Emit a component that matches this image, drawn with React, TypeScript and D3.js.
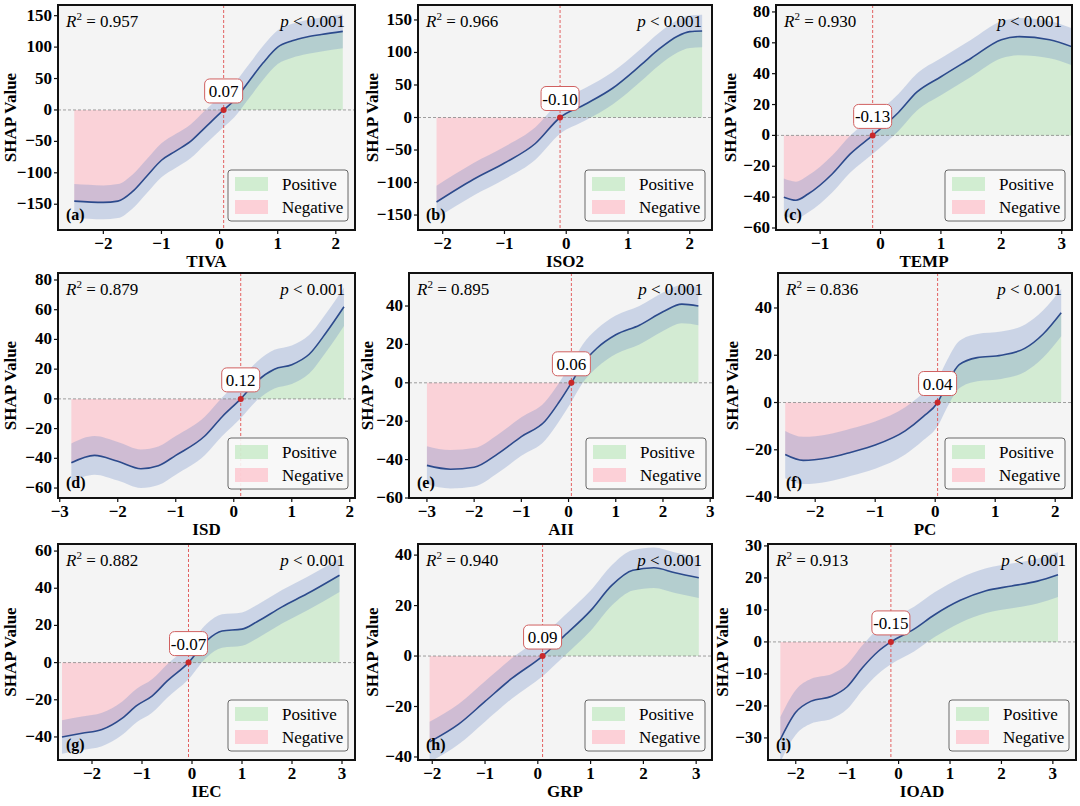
import * as d3 from 'd3';

const names = ['TIVA', 'ISO2', 'TEMP', 'ISD', 'AII', 'PC', 'IEC', 'GRP', 'IOAD'];
const letters = ['a', 'b', 'c', 'd', 'e', 'f', 'g', 'h', 'i'];
const r2 = ['0.957', '0.966', '0.930', '0.879', '0.895', '0.836', '0.882', '0.940', '0.913'];
const crossing = [0.07, -0.1, -0.13, 0.12, 0.06, 0.04, -0.07, 0.09, -0.15];
const bandHalf = [27, 25, 12, 13, 10, 10, 9, 8, 7];

const xDomains: [number, number][] = [
  [-2.78, 2.33], [-2.4, 2.36], [-1.73, 3.17],
  [-3.03, 2.09], [-3.38, 3.06], [-2.62, 2.28],
  [-2.68, 3.26], [-2.27, 3.3], [-2.54, 3.45],
];
const yDomains: [number, number][] = [
  [-191, 167], [-173, 173], [-61.3, 84.5],
  [-66.7, 84.7], [-60, 57.2], [-40.4, 54.8],
  [-52.4, 63.8], [-41.2, 44.4], [-36.9, 30.6],
];
const xTicks = [
  [-2, -1, 0, 1, 2], [-2, -1, 0, 1, 2], [-1, 0, 1, 2, 3],
  [-3, -2, -1, 0, 1, 2], [-3, -2, -1, 0, 1, 2, 3], [-2, -1, 0, 1, 2],
  [-2, -1, 0, 1, 2, 3], [-2, -1, 0, 1, 2, 3], [-2, -1, 0, 1, 2, 3],
];
const yTicks = [
  [-150, -100, -50, 0, 50, 100, 150], [-150, -100, -50, 0, 50, 100, 150], [-60, -40, -20, 0, 20, 40, 60, 80],
  [-60, -40, -20, 0, 20, 40, 60, 80], [-60, -40, -20, 0, 20, 40], [-40, -20, 0, 20, 40],
  [-40, -20, 0, 20, 40, 60], [-40, -20, 0, 20, 40], [-30, -20, -10, 0, 10, 20, 30],
];

const curveX = [
  [-2.5, -2.0, -1.75, -1.5, -1.25, -1.0, -0.75, -0.5, -0.25, 0.07, 0.25, 0.5, 0.75, 1.0, 1.25, 1.5, 1.75, 2.12],
  [-2.1, -1.5, -1.0, -0.5, -0.1, 0.3, 0.75, 1.2, 1.5, 1.8, 2.0, 2.2],
  [-1.6, -1.4, -1.2, -0.8, -0.5, -0.13, 0.3, 0.6, 1.0, 1.5, 2.0, 2.3, 2.8, 3.2],
  [-2.8, -2.4, -2.0, -1.6, -1.3, -1.0, -0.5, -0.2, 0.12, 0.4, 0.7, 1.0, 1.3, 1.6, 1.9],
  [-3.0, -2.5, -2.0, -1.5, -1.0, -0.5, -0.2, 0.06, 0.3, 0.6, 1.0, 1.5, 2.0, 2.4, 2.75],
  [-2.5, -2.2, -1.8, -1.4, -1.0, -0.5, -0.2, 0.04, 0.2, 0.4, 0.7, 1.1, 1.5, 1.8, 2.1],
  [-2.6, -2.2, -1.8, -1.4, -1.1, -0.8, -0.5, -0.07, 0.3, 0.6, 1.0, 1.3, 1.8, 2.3, 2.95],
  [-2.05, -1.5, -1.0, -0.5, 0.09, 0.5, 1.0, 1.4, 1.8, 2.2, 2.6, 3.05],
  [-2.3, -2.0, -1.7, -1.3, -1.0, -0.7, -0.4, -0.15, 0.3, 0.7, 1.2, 1.7, 2.2, 2.7, 3.1],
];
const curveY = [
  [-145, -147, -145, -130, -105, -80, -65, -50, -28, 0, 15, 45, 75, 100, 110, 116, 120, 125],
  [-130, -95, -70, -40, 0, 20, 45, 80, 105, 125, 132, 133],
  [-40, -42, -38, -25, -12, 0, 15, 28, 38, 50, 62, 64, 62, 57],
  [-43, -38, -42, -47, -45, -38, -25, -12, 0, 12, 20, 23, 30, 45, 62],
  [-43, -45, -44, -37, -28, -20, -10, 0, 10, 18, 25, 30, 37, 41, 40],
  [-22, -24.5, -23.5, -21, -18, -12, -6, 0, 8, 16, 19, 20, 23, 29, 38],
  [-40, -38, -36, -30, -23, -18, -10, 0, 12, 17, 18, 22, 30, 37, 47],
  [-34, -27, -18, -9, 0, 8, 18, 28, 34, 35, 33, 31],
  [-30.5, -22, -18.5, -17, -14, -8, -3, 0, 4, 8.5, 13, 16, 17.5, 19, 21],
];

const colLeft = [58, 418, 776, 58, 409, 778, 58, 418, 768];
const colRight = [355, 712, 1072, 355, 713, 1072, 355, 712, 1076];
const rowTop = [5, 273, 544];
const rowBottom = [230, 498, 760];

const FONT = "'Times New Roman', 'Liberation Serif', 'DejaVu Serif', serif";

function Panel({ i }: { i: number }) {
  const row = Math.floor(i / 3);
  const L = colLeft[i], R = colRight[i], T = rowTop[row], B = rowBottom[row];
  const x = d3.scaleLinear().domain(xDomains[i]).range([L, R]);
  const y = d3.scaleLinear().domain(yDomains[i]).range([B, T]);
  const pts = curveX[i].map((v, k) => ({ x: v, y: curveY[i][k] }));
  const c = crossing[i];
  const h = bandHalf[i];
  const curve = d3.curveMonotoneX;
  const line = d3.line<{ x: number; y: number }>().x(d => x(d.x)).y(d => y(d.y)).curve(curve);
  const band = d3.area<{ x: number; y: number }>().x(d => x(d.x)).y0(d => y(d.y - h)).y1(d => y(d.y + h)).curve(curve);
  const neg = pts.filter(d => d.x <= c);
  const pos = pts.filter(d => d.x >= c);
  const fillArea = d3.area<{ x: number; y: number }>().x(d => x(d.x)).y0(y(0)).y1(d => y(d.y)).curve(curve);
  const cx = x(c), cy = y(0);
  const clipId = `clip${i}`;
  const lx = R - 127, ly = B - 60;
  return (
    <g style={{ fontFamily: FONT }}>
      <defs>
        <clipPath id={clipId}><rect x={L} y={T} width={R - L} height={B - T} /></clipPath>
      </defs>
      <rect x={L} y={T} width={R - L} height={B - T} fill="#f4f4f4" />
      <g clipPath={`url(#${clipId})`}>
        <path d={fillArea(neg) || ''} fill="rgba(255,182,193,0.55)" />
        <path d={fillArea(pos) || ''} fill="rgba(170,225,170,0.45)" />
        <path d={band(pts) || ''} fill="rgba(110,140,200,0.3)" />
        <line x1={L} x2={R} y1={cy} y2={cy} stroke="#888" strokeWidth={0.8} strokeDasharray="3,2" />
        <line x1={cx} x2={cx} y1={T} y2={B} stroke="#e05050" strokeWidth={0.9} strokeDasharray="3,2" />
        <path d={line(pts) || ''} fill="none" stroke="#2c4a8c" strokeWidth={1.6} />
        <circle cx={cx} cy={cy} r={3} fill="#c8282a" />
      </g>
      <rect x={cx - 19} y={cy - 31} width={38} height={24} rx={5} fill="white" stroke="#d06060" strokeWidth={1} />
      <text x={cx} y={cy - 13} textAnchor="middle" fontSize={17}>{c.toFixed(2)}</text>
      <text x={L + 8} y={T + 22} fontSize={17}>
        <tspan fontStyle="italic">R</tspan><tspan fontSize={11} dy={-7}>2</tspan><tspan dy={7}> = {r2[i]}</tspan>
      </text>
      <text x={R - 10} y={T + 22} fontSize={17} textAnchor="end">
        <tspan fontStyle="italic">p</tspan> &lt; 0.001
      </text>
      <text x={L + 8} y={B - 10} fontSize={16} fontWeight="bold">({letters[i]})</text>
      <rect x={lx} y={ly} width={120} height={51} rx={3} fill="rgba(248,248,248,0.9)" stroke="#444" strokeWidth={0.8} />
      <rect x={lx + 7} y={ly + 7} width={33} height={14} fill="rgba(170,225,170,0.5)" />
      <rect x={lx + 7} y={ly + 30} width={33} height={14} fill="rgba(255,182,193,0.6)" />
      <text x={lx + 54} y={ly + 20} fontSize={17}>Positive</text>
      <text x={lx + 54} y={ly + 43} fontSize={17}>Negative</text>
      <rect x={L} y={T} width={R - L} height={B - T} fill="none" stroke="#111" strokeWidth={2} />
      {xTicks[i].map(t => (
        <g key={`x${t}`}>
          <line x1={x(t)} x2={x(t)} y1={B} y2={B + 4} stroke="#111" strokeWidth={1.2} />
          <text x={x(t)} y={B + 19} textAnchor="middle" fontSize={17} fontWeight="bold">{t < 0 ? `\u2212${-t}` : t}</text>
        </g>
      ))}
      {yTicks[i].map(t => (
        <g key={`y${t}`}>
          <line x1={L - 4} x2={L} y1={y(t)} y2={y(t)} stroke="#111" strokeWidth={1.2} />
          <text x={L - 6} y={y(t) + 5} textAnchor="end" fontSize={17} fontWeight="bold">{t < 0 ? `\u2212${-t}` : t}</text>
        </g>
      ))}
      <text x={(L + R) / 2} y={B + 37} textAnchor="middle" fontSize={17} fontWeight="bold">{names[i]}</text>
      <text transform={`translate(${L - (i % 3 === 0 ? 42 : i === 4 ? 36 : 40)},${(T + B) / 2}) rotate(-90)`} textAnchor="middle" fontSize={17} fontWeight="bold">SHAP Value</text>
    </g>
  );
}

export default function App() {
  return (
    <svg width={1080} height={806} style={{ position: 'absolute', left: 0, top: 0, background: 'white' }}>
      {names.map((_, i) => <Panel key={i} i={i} />)}
    </svg>
  );
}
